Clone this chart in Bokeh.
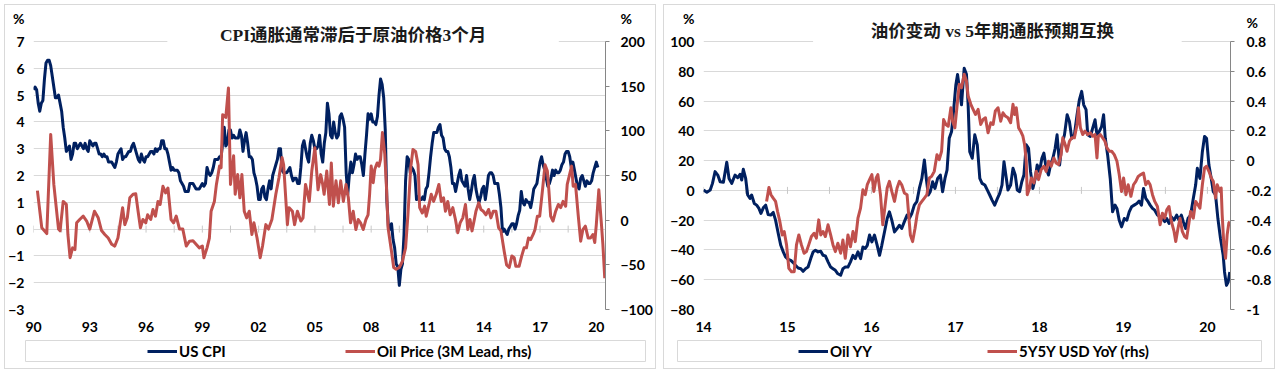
from bokeh.plotting import figure
from bokeh.models import (Range1d, LinearAxis, FixedTicker, NumeralTickFormatter,
                          Label, Legend, LegendItem, BoxAnnotation)
from bokeh.layouts import row, column
from bokeh.embed import file_html
from bokeh.resources import INLINE
from bokeh.core.properties import value
import math

# ---------------- data: left panel ----------------
cpi_start_year = 1990
us_cpi = [
    5.2, 5.3, 5.2, 4.7, 4.4, 4.7, 4.8, 5.6, 6.2, 6.3, 6.3, 6.1,
    5.7, 5.3, 4.9, 4.9, 5.0, 4.7, 4.4, 3.8, 3.4, 2.9, 3.0, 3.1,
    2.6, 2.8, 3.2, 3.2, 3.0, 3.1, 3.2, 3.1, 3.0, 3.2, 3.0, 2.9,
    3.3, 3.2, 3.1, 3.2, 3.2, 3.0, 2.8, 2.8, 2.7, 2.8, 2.7, 2.7,
    2.5, 2.5, 2.5, 2.4, 2.3, 2.5, 2.8, 2.9, 3.0, 2.6, 2.7, 2.7,
    2.8, 2.9, 2.9, 3.1, 3.2, 3.0, 2.8, 2.6, 2.5, 2.8, 2.6, 2.5,
    2.7, 2.7, 2.8, 2.9, 2.9, 2.8, 3.0, 2.9, 3.0, 3.0, 3.3, 3.3,
    3.0, 3.0, 2.8, 2.5, 2.2, 2.3, 2.2, 2.2, 2.2, 2.1, 1.8, 1.7,
    1.6, 1.4, 1.4, 1.4, 1.7, 1.7, 1.7, 1.6, 1.5, 1.5, 1.5, 1.6,
    1.7, 1.6, 1.7, 2.3, 2.1, 2.0, 2.1, 2.3, 2.6, 2.6, 2.6, 2.7,
    2.7, 3.2, 3.8, 3.1, 3.2, 3.7, 3.7, 3.4, 3.5, 3.4, 3.4, 3.4,
    3.7, 3.5, 2.9, 3.3, 3.6, 3.2, 2.7, 2.7, 2.6, 2.1, 1.9, 1.6,
    1.1, 1.1, 1.5, 1.6, 1.2, 1.1, 1.5, 1.8, 1.5, 2.0, 2.2, 2.4,
    2.6, 3.0, 3.0, 2.2, 2.1, 2.1, 2.1, 2.2, 2.3, 2.0, 1.8, 1.9,
    1.9, 1.7, 1.7, 2.3, 3.1, 3.3, 3.0, 2.7, 2.5, 3.2, 3.5, 3.3,
    3.0, 3.0, 3.1, 3.5, 2.8, 2.5, 3.2, 3.6, 4.7, 4.3, 3.5, 3.4,
    4.0, 3.6, 3.4, 3.5, 4.2, 4.3, 4.1, 3.8, 2.1, 1.3, 2.0, 2.5,
    2.1, 2.4, 2.8, 2.6, 2.7, 2.7, 2.4, 2.0, 2.8, 3.5, 4.3, 4.1,
    4.3, 4.0, 4.0, 3.9, 4.2, 5.0, 5.6, 5.4, 4.9, 3.7, 1.1, 0.1,
    0.0, 0.2, -0.4, -0.7, -1.3, -1.4, -2.1, -1.5, -1.3, -0.2, 1.8, 2.7,
    2.6, 2.1, 2.3, 2.2, 2.0, 1.1, 1.2, 1.1, 1.1, 1.2, 1.1, 1.5,
    1.6, 2.1, 2.7, 3.2, 3.6, 3.6, 3.6, 3.8, 3.9, 3.5, 3.4, 3.0,
    2.9, 2.9, 2.7, 2.3, 1.7, 1.7, 1.4, 1.7, 2.0, 2.2, 1.8, 1.7,
    1.6, 2.0, 1.5, 1.1, 1.4, 1.8, 2.0, 1.5, 1.2, 1.0, 1.2, 1.5,
    1.6, 1.1, 1.5, 2.0, 2.1, 2.1, 2.0, 1.7, 1.7, 1.7, 1.3, 0.8,
    -0.1, 0.0, -0.1, -0.2, 0.0, 0.1, 0.2, 0.2, 0.0, 0.2, 0.5, 0.7,
    1.4, 1.0, 0.9, 1.1, 1.0, 1.0, 0.8, 1.1, 1.5, 1.6, 1.7, 2.1,
    2.5, 2.7, 2.4, 2.2, 1.9, 1.6, 1.7, 1.9, 2.2, 2.0, 2.2, 2.1,
    2.1, 2.2, 2.4, 2.5, 2.8, 2.9, 2.9, 2.7, 2.3, 2.5, 2.2, 1.9,
    1.6, 1.5, 1.9, 2.0, 1.8, 1.6, 1.8, 1.7, 1.7, 1.8, 2.1, 2.3,
    2.5, 2.3,
]

# months since Jan 1990, oil price YoY % (3M lead, rhs)
oil_lead_month = [
    2.5, 5.3, 8.5, 11, 13, 16, 17, 19, 21, 22, 23.4, 25, 26.5, 27.6, 29.7, 31.8,
    34, 36, 39, 41.4, 43.5, 45.6, 47.8, 50, 52, 54, 57, 58.4, 60, 61.6, 63.7,
    65.4, 66.9, 68.4, 70, 71.8, 73, 75, 76.4, 78, 79.6, 81, 82.8, 84.5, 86, 88,
    89.6, 91.3, 93.4, 95.5, 97.7, 99.8, 102, 104, 106, 108, 109, 111, 112.5,
    113.6, 115.7, 117, 119, 120, 121, 123, 124.7, 126, 128, 129, 130.6, 132,
    133.3, 134.8, 136.3, 138, 139.7, 141, 143, 145, 146.5, 148.6, 150.3, 152.5,
    155, 157, 159, 160, 162.4, 163.4, 165.6, 167, 168.8, 171, 172.4, 174, 176.4,
    178, 180, 182, 183.7, 185, 185.9, 187.6, 189.3, 190.5, 191.8, 193.5, 195,
    196.5, 198.2, 199.9, 201.4, 202.8, 204.5, 206.2, 207.7, 209.2, 210.9, 212.6,
    214, 215, 216, 217.3, 218.3, 219.8, 221, 222, 223.2, 224.7, 225.8, 226.8,
    229, 230.4, 232, 234, 236, 238, 239.5, 241.3, 242.7, 244.4, 246, 247, 248.7,
    250.2, 251.2, 253, 254.4, 255.9, 257.6, 259.3, 260.8, 262.3, 263.5, 265,
    266.5, 268.2, 269.9, 271.4, 272.9, 274.6, 276.3, 277.8, 279.2, 280.5, 282,
    283, 284.8, 286.2, 287.7, 289.4, 291.1, 292.6, 294.1, 295.8, 297.5, 299,
    301.1, 302.6, 304.3, 306, 307.5, 308.5, 310.6, 312.3, 313.8, 315.3, 316.6,
    318, 319.6, 320.8, 322.3, 323.8, 325.5, 327.2, 328.7, 329.7, 330.8, 332.3,
    334, 335.7, 337.2, 338.7, 340.4, 341.4, 342.9, 344.2, 345.2, 346.7, 348.4,
    350, 351.4, 353, 354.8, 356.3, 357.8, 359, 360, 361.6, 363.3, 364.2, 365.4,
]
oil_lead_yoy = [
    33, -8.6, -15, 96, 40, -10, -12, 21, 17.6, -16, -42, -31, -33, -3, 1, 4.5,
    -1, -10, 10, 2.6, -11.6, -16, -20, -27, -29, -20, 14, -5, 2.6, 25, 29,
    29.5, 10, -8.6, 0.7, -3, 6, 0.7, 12, 4.5, 21, 17.5, 38, 30.6, 36, 0.7,
    -3, 4.5, -10, -10, -29, -23.5, -23, -27, -31, -29, -42, -31, -20,
    10, 21, 40, 60.5, 58.7, 118, 115, 148, 40, 72, 29, 51, 25,
    51, 10, 2.6, 10, -16, -3, -20, -42, -29, -5, -10, 0.7,
    29, 47.5, 70, 62, -5, 14, 10, -5, 10, -1, 2.6, 40, 21,
    55, 81, 34, 51, 40, 29, 55, 17.6, 64, 15.7, 44, 19.4,
    44, 21, 40, 25, -3, 10, -10.5, 0.7, -3, -10.5, 0.7,
    6, 29, 60.5, 42, 57, 64, 60.5, 68, 98, 73.6, 36, -8.6,
    -35, -53, -55, -53, -46, -31, 6, 59, 79, 77, 62, 14, 8,
    15.7, 4.5, 17.6, 29, 21, 29, 40, 21, 25, 10, 21,
    6, 14, 0.7, -14, -3, 2.6, 17.6, -10.5, 0.7, -12, 0.7,
    10, 19.4, 12, 10, 6, 12, 2.6, 10, 10, -8.6, -12,
    -35, -50, -53, -40, -42, -51.6, -51.6, -40, -31, -31, -20,
    -21.7, -16, -10.5, 4.5, 4.5, 32.5, 62, 55, 32.5, 4.5, -1,
    10, 17.6, 14, 21, 15.7, 40, 51, 60.5, 38, 40, 6,
    -23.5, -10.5, -6.7, -20, -20, -16, -25, -5, 34, -5, -27, -65,
]

left_tick_years = [1990, 1993, 1996, 1999, 2002, 2005, 2008, 2011, 2014, 2017, 2020]
left_tick_labels = ["90", "93", "96", "99", "02", "05", "08", "11", "14", "17", "20"]
left_minor_years = [1990, 1991.5, 1993, 1994.5, 1996, 1997.5, 1999, 2000.5, 2002, 2003.5,
                    2005, 2006.5, 2008, 2009.5, 2011, 2012.5, 2014, 2015.5, 2017, 2018.5, 2020]
left_lhs_ticks = [-3, -2, -1, 0, 1, 2, 3, 4, 5, 6, 7]
left_rhs_ticks = [-100, -50, 0, 50, 100, 150, 200]

# ---------------- data: right panel ----------------
oil_yy_date = [
    2014.000, 2014.040, 2014.080, 2014.107, 2014.138, 2014.170, 2014.198, 2014.237,
    2014.277, 2014.304, 2014.336, 2014.376, 2014.407, 2014.435, 2014.455, 2014.474,
    2014.502, 2014.526, 2014.554, 2014.573, 2014.605, 2014.633, 2014.660, 2014.684,
    2014.712, 2014.740, 2014.770, 2014.800, 2014.830, 2014.858, 2014.890, 2014.920,
    2014.950, 2014.977, 2015.008, 2015.040, 2015.068, 2015.095, 2015.127, 2015.159,
    2015.186, 2015.214, 2015.245, 2015.277, 2015.305, 2015.333, 2015.364, 2015.396,
    2015.423, 2015.451, 2015.483, 2015.514, 2015.542, 2015.570, 2015.600, 2015.633,
    2015.660, 2015.688, 2015.720, 2015.750, 2015.780, 2015.807, 2015.839, 2015.870,
    2015.898, 2015.926, 2015.950, 2015.977, 2016.005, 2016.036, 2016.068, 2016.096,
    2016.123, 2016.155, 2016.187, 2016.214, 2016.242, 2016.274, 2016.305, 2016.333,
    2016.360, 2016.392, 2016.424, 2016.450, 2016.480, 2016.510, 2016.540, 2016.570,
    2016.600, 2016.630, 2016.653, 2016.677, 2016.700, 2016.728, 2016.756, 2016.788,
    2016.820, 2016.847, 2016.875, 2016.900, 2016.926, 2016.954, 2016.977, 2017.005,
    2017.025, 2017.057, 2017.072, 2017.104, 2017.131, 2017.151, 2017.170, 2017.200,
    2017.230, 2017.260, 2017.290, 2017.317, 2017.350, 2017.380, 2017.408, 2017.436,
    2017.467, 2017.500, 2017.527, 2017.554, 2017.578, 2017.606, 2017.625, 2017.657,
    2017.685, 2017.712, 2017.736, 2017.764, 2017.790, 2017.815, 2017.843, 2017.870,
    2017.894, 2017.922, 2017.950, 2017.973, 2018.001, 2018.029, 2018.053, 2018.080,
    2018.108, 2018.132, 2018.160, 2018.187, 2018.210, 2018.240, 2018.266, 2018.298,
    2018.330, 2018.357, 2018.385, 2018.416, 2018.448, 2018.476, 2018.503, 2018.527,
    2018.555, 2018.575, 2018.606, 2018.634, 2018.662, 2018.685, 2018.713, 2018.740,
    2018.764, 2018.784, 2018.812, 2018.843, 2018.871, 2018.900, 2018.923, 2018.950,
    2018.978, 2019.010, 2019.041, 2019.069, 2019.097, 2019.128, 2019.160, 2019.187,
    2019.215, 2019.239, 2019.266, 2019.294, 2019.318, 2019.346, 2019.373, 2019.405,
    2019.437, 2019.464, 2019.492, 2019.516, 2019.543, 2019.571, 2019.603, 2019.634,
    2019.662, 2019.690, 2019.713, 2019.741, 2019.769, 2019.800, 2019.832, 2019.860,
    2019.880, 2019.911, 2019.940, 2019.966, 2019.990, 2020.018, 2020.046, 2020.070,
    2020.097, 2020.125, 2020.156, 2020.188, 2020.204, 2020.227, 2020.247, 2020.267,
]
oil_yy = [
    0.2, -1.3, 0.2, 4.7, 12.6, 10.3, 5.8, 5.4,
    18.9, 8, 4.7, 10.3, 8.5, 10.8, 7, 14.2,
    8, -3.1, -5.4, -3.1, -8.8, -9.9, -12.1, -15.5,
    -11.7, -9.9, -16.2, -16.6, -14.8, -20, -29, -36.9,
    -41.3, -44.7, -46.3, -47, -48.5, -50.3, -52.1, -52.6,
    -54.4, -52.6, -51.5, -45.8, -41.3, -40.2, -41.3, -40.9,
    -43.6, -44, -48, -51.5, -52.6, -53.7, -56, -57,
    -52.6, -51.5, -51.5, -48, -43.6, -45.8, -41.3, -45.8,
    -38, -39, -36.9, -30, -34.6, -30, -36.9, -43.6,
    -36.9, -27.9, -18.9, -14.4, -20, -27.9, -25.6, -23.4,
    -25.6, -21, -16.6, -18.9, -15.5, -9.9, -7.6, 1.3,
    8, 20.4, 8, -3.1, -0.9, 5.8, 1.3, 8,
    10.3, -0.9, 8, 13.7, 35, 39.6, 53, 71,
    77.8, 64.3, 57.5, 82, 78, 57.5, 26, 21.6,
    37.3, 30.6, 8, 4.7, 3.6, 0.2, -3.1, -6.5,
    -9.9, -5.4, -2, 3.6, 19.3, 8, 0.2, 3.6,
    14.8, 10.3, 0.2, -0.9, 5.8, 10.3, 30.6, 28.3,
    12.6, 1.3, 8, 17, 12.6, 21.6, 25, 14.8,
    10.3, 17, 21.6, 28.3, 37.3, 17, 30.6, 37.3,
    50.8, 46.3, 35, 37.3, 50.8, 61, 66.5, 57.5,
    54.2, 37.3, 36.2, 41.8, 47.4, 37.3, 39.6, 42.9,
    50.8, 35, 23.8, 8, -14.4, -9.9, -12.1, -20,
    -24.5, -18.9, -20, -14.4, -11, -9.9, -8.8, -7.2,
    -9.9, 1.3, -5.4, -7.6, -9.9, -12.1, -13.3, -16.6,
    -17.8, -18.9, -21, -18.9, -22.2, -17.8, -20, -16.6,
    -20, -16.6, -21, -25.6, -18.9, -16.6, -5.4, 3.6,
    14.8, 8, 26, 36.2, 35, 17, 8, -0.9,
    -3.1, -18.9, -32.4, -43.6, -54.8, -63.8, -61.6, -54.8,
]

swap_date = [
    2014.751, 2014.779, 2014.803, 2014.830, 2014.858, 2014.882, 2014.909, 2014.937,
    2014.961, 2014.989, 2015.016, 2015.048, 2015.080, 2015.107, 2015.135, 2015.166,
    2015.198, 2015.226, 2015.253, 2015.285, 2015.317, 2015.344, 2015.372, 2015.396,
    2015.423, 2015.451, 2015.483, 2015.514, 2015.542, 2015.570, 2015.600, 2015.633,
    2015.660, 2015.688, 2015.720, 2015.750, 2015.780, 2015.807, 2015.839, 2015.870,
    2015.898, 2015.926, 2015.950, 2015.977, 2016.005, 2016.028, 2016.056, 2016.076,
    2016.107, 2016.135, 2016.163, 2016.187, 2016.214, 2016.242, 2016.274, 2016.305,
    2016.333, 2016.360, 2016.392, 2016.424, 2016.440, 2016.463, 2016.490, 2016.519,
    2016.543, 2016.570, 2016.600, 2016.630, 2016.660, 2016.689, 2016.716, 2016.748,
    2016.780, 2016.807, 2016.835, 2016.859, 2016.886, 2016.914, 2016.946, 2016.966,
    2016.993, 2017.017, 2017.045, 2017.072, 2017.104, 2017.131, 2017.151, 2017.183,
    2017.210, 2017.238, 2017.270, 2017.301, 2017.329, 2017.357, 2017.388, 2017.420,
    2017.448, 2017.475, 2017.507, 2017.539, 2017.566, 2017.594, 2017.625, 2017.657,
    2017.685, 2017.705, 2017.724, 2017.752, 2017.776, 2017.803, 2017.823, 2017.843,
    2017.855, 2017.883, 2017.902, 2017.934, 2017.962, 2017.989, 2018.021, 2018.053,
    2018.080, 2018.108, 2018.140, 2018.171, 2018.199, 2018.227, 2018.258, 2018.278,
    2018.306, 2018.329, 2018.357, 2018.385, 2018.416, 2018.448, 2018.464, 2018.488,
    2018.515, 2018.543, 2018.575, 2018.606, 2018.634, 2018.662, 2018.685, 2018.701,
    2018.725, 2018.753, 2018.780, 2018.804, 2018.832, 2018.860, 2018.891, 2018.923,
    2018.950, 2018.978, 2019.002, 2019.030, 2019.057, 2019.089, 2019.120, 2019.148,
    2019.176, 2019.207, 2019.239, 2019.266, 2019.294, 2019.318, 2019.346, 2019.373,
    2019.405, 2019.437, 2019.464, 2019.492, 2019.516, 2019.543, 2019.571, 2019.603,
    2019.623, 2019.650, 2019.674, 2019.701, 2019.729, 2019.753, 2019.780, 2019.800,
    2019.832, 2019.860, 2019.887, 2019.911, 2019.940, 2019.966, 2019.990, 2020.018,
    2020.046, 2020.070, 2020.097, 2020.117, 2020.148, 2020.164, 2020.176, 2020.196,
    2020.216, 2020.235, 2020.255, 2020.267,
]
swap_5y5y_yoy = [
    -0.274, -0.18, -0.229, -0.252, -0.274, -0.342, -0.409, -0.499,
    -0.476, -0.566, -0.724, -0.746, -0.746, -0.566, -0.499, -0.566,
    -0.622, -0.611, -0.566, -0.51, -0.488, -0.521, -0.398, -0.499,
    -0.476, -0.51, -0.431, -0.499, -0.566, -0.611, -0.555, -0.622,
    -0.533, -0.656, -0.499, -0.578, -0.476, -0.544, -0.387, -0.319,
    -0.196, -0.229, -0.162, -0.128, -0.094, -0.207, -0.117, -0.094,
    -0.229, -0.431, -0.297, -0.184, -0.139, -0.207, -0.274, -0.184,
    -0.139, -0.162, -0.218, -0.229, -0.342, -0.499, -0.544, -0.454,
    -0.364, -0.297, -0.274, -0.252, -0.229, -0.117, -0.106, -0.072,
    0.04, 0.007, 0.063, 0.276, 0.243, 0.231, 0.355, 0.265,
    0.22, 0.355, 0.512, 0.49, 0.58, 0.535, 0.434, 0.378,
    0.344, 0.31, 0.344, 0.243, 0.276, 0.288, 0.187, 0.254,
    0.243, 0.333, 0.355, 0.265, 0.321, 0.299, 0.288, 0.254,
    0.378, 0.31, 0.355, 0.22, 0.198, 0.164, 0.108, -0.004,
    -0.229, -0.184, -0.117, -0.15, -0.072, -0.128, -0.061, -0.038,
    -0.072, -0.004, -0.038, 0.018, -0.016, -0.027, 0.04, 0.153,
    0.108, 0.063, 0.13, 0.153, 0.153, 0.243, 0.355, 0.22,
    0.175, 0.198, 0.175, 0.187, 0.164, 0.175, 0.018, 0.164,
    0.175, 0.153, 0.13, 0.085, 0.063, 0.063, 0.04, -0.004,
    -0.094, -0.207, -0.117, -0.229, -0.162, -0.24, -0.162, -0.139,
    -0.106, -0.094, -0.083, -0.162, -0.139, -0.162, -0.229, -0.274,
    -0.308, -0.431, -0.353, -0.387, -0.33, -0.308, -0.409, -0.476,
    -0.544, -0.454, -0.387, -0.476, -0.51, -0.521, -0.42, -0.342,
    -0.387, -0.274, -0.297, -0.319, -0.162, -0.049, -0.038, -0.072,
    -0.117, -0.139, -0.252, -0.162, -0.207, -0.184, -0.364, -0.566,
    -0.656, -0.499, -0.42, -0.409,
]

right_tick_years = [2014, 2015, 2016, 2017, 2018, 2019, 2020]
right_tick_labels = ["14", "15", "16", "17", "18", "19", "20"]
right_minor_years = [2014, 2014.5, 2015, 2015.5, 2016, 2016.5, 2017, 2017.5,
                     2018, 2018.5, 2019, 2019.5, 2020]
right_lhs_ticks = [-80, -60, -40, -20, 0, 20, 40, 60, 80, 100]
right_rhs_ticks = [-1.0, -0.8, -0.6, -0.4, -0.2, 0.0, 0.2, 0.4, 0.6, 0.8]

left_title = "CPI通胀通常滞后于原油价格3个月"
right_title = "油价变动 vs 5年期通胀预期互换"
unit_label = "%"

# ---------------- styling / layout ----------------
NAVY = "#002060"
RED = "#c0504d"
GRID = "#d9d9d9"
AXIS = "#868686"
ZERO_TICK = "#c8c8c8"
TXT = "#000000"
NUM_FONT = "Lato"
TITLE_FONT = "Liberation Serif, Noto Sans CJK SC"

FRAME_TOP_PX = 6       # frame reaches the top of the canvas (page px)
GRID_TOP_PX = 42       # page y of the top gridline
FRAME_BOTTOM_PX = 310  # page y of the bottom gridline


def value_at(lo, hi, ypx):
    per = (hi - lo) / (FRAME_BOTTOM_PX - GRID_TOP_PX)
    return hi + (GRID_TOP_PX - ypx) * per


def year_at(x0, x1, left_px, right_px, xpx):
    return x0 + (xpx - left_px) / (right_px - left_px) * (x1 - x0)


def num_style(ax):
    ax.major_label_text_font = NUM_FONT
    ax.major_label_text_font_style = "bold"
    ax.major_label_text_font_size = "14px"
    ax.major_label_text_color = TXT
    ax.minor_tick_line_color = None


def make_panel(cfg):
    lo, hi = cfg["lhs"]
    rlo, rhi = cfg["rhs"]
    x0, x1 = cfg["xr"]
    lpx, rpx = cfg["frame_px"]
    lpct = value_at(lo, hi, cfg["pct_y"][0])
    rpct = value_at(rlo, rhi, cfg["pct_y"][1])

    p = figure(width=cfg["width"], height=FRAME_BOTTOM_PX - FRAME_TOP_PX + 30,
               x_range=Range1d(x0, x1),
               y_range=Range1d(lo, value_at(lo, hi, FRAME_TOP_PX)),
               output_backend="svg", toolbar_location=None,
               min_border_left=cfg["mb_left"], min_border_right=cfg["mb_right"],
               min_border_top=0, min_border_bottom=30)
    p.title.visible = False
    p.extra_y_ranges = {"rhs": Range1d(rlo, value_at(rlo, rhi, FRAME_TOP_PX))}
    p.outline_line_color = None
    p.background_fill_color = "white"
    p.border_fill_color = "white"

    xa = p.below[0]
    xa.ticker = FixedTicker(ticks=cfg["xticks"])
    xa.major_label_overrides = dict(zip(cfg["xticks"], cfg["xlabels"]))
    num_style(xa)
    xa.axis_line_color = None
    xa.major_tick_line_color = None
    xa.major_tick_out = 0
    xa.major_label_standoff = 12

    ya = p.left[0]
    ya.ticker = FixedTicker(ticks=list(cfg["lticks"]) + [lpct])
    ya.major_label_overrides = {lpct: unit_label}
    num_style(ya)
    ya.axis_line_color = None
    ya.major_tick_line_color = None
    ya.major_tick_out = 0
    ya.major_label_standoff = cfg["left_standoff"]

    # right axis line with tick marks (bounded to the value range)
    ra1 = LinearAxis(y_range_name="rhs", bounds=(rlo, rhi))
    ra1.ticker = FixedTicker(ticks=cfg["rticks"])
    ra1.major_label_overrides = {t: "" for t in cfg["rticks"]}
    num_style(ra1)
    ra1.axis_line_color = AXIS
    ra1.major_tick_line_color = AXIS
    ra1.major_tick_out = 4
    ra1.major_tick_in = 0
    ra1.major_label_standoff = 0
    p.add_layout(ra1, "right")

    # right axis labels (plus unit)
    ra2 = LinearAxis(y_range_name="rhs")
    ra2.ticker = FixedTicker(ticks=list(cfg["rticks"]) + [rpct])
    if cfg["rformatter"] is not None:
        ra2.formatter = cfg["rformatter"]
    ra2.major_label_overrides = {rpct: unit_label}
    num_style(ra2)
    ra2.axis_line_color = None
    ra2.major_tick_line_color = None
    ra2.major_tick_out = 0
    ra2.major_tick_in = 0
    ra2.major_label_standoff = cfg["right_standoff"]
    p.add_layout(ra2, "right")

    p.xgrid.visible = False
    p.ygrid.ticker = FixedTicker(ticks=cfg["lticks"])
    p.ygrid.grid_line_color = GRID
    p.ygrid.grid_line_width = 1

    # small category-axis tick marks on the zero line
    minor = cfg["minor_years"]
    p.scatter(minor, [0] * len(minor), marker="dash", size=7, angle=math.pi / 2,
              line_color=ZERO_TICK, line_width=1)

    (sx1, sy1), (sx2, sy2) = cfg["series"]
    p.line(sx1, sy1, line_color=NAVY, line_width=3, line_join="round")
    p.line(sx2, sy2, line_color=RED, line_width=3, line_join="round", y_range_name="rhs")

    # white title box hiding the top gridline, as in the original
    bl, br = cfg["title_box_px"]
    p.add_layout(BoxAnnotation(left=year_at(x0, x1, lpx, rpx, bl),
                               right=year_at(x0, x1, lpx, rpx, br),
                               bottom=value_at(lo, hi, GRID_TOP_PX + 1.5),
                               fill_color="white", fill_alpha=1.0,
                               line_color=None))
    tx, ty = cfg["title_px"]
    p.add_layout(Label(x=year_at(x0, x1, lpx, rpx, tx), y=value_at(lo, hi, ty),
                       text=cfg["title"], text_align="center", text_baseline="middle",
                       text_font=TITLE_FONT, text_font_style="bold",
                       text_font_size="17.5px", text_color="#1a1a1a"))

    # legend box
    lf = figure(width=cfg["width"], height=29, x_range=Range1d(0, 1), y_range=Range1d(0, 1),
                x_axis_type=None, y_axis_type=None, output_backend="svg",
                toolbar_location=None, min_border_left=cfg["leg_mb"][0],
                min_border_right=cfg["leg_mb"][1], min_border_top=1, min_border_bottom=7)
    if "frame_align" in lf.properties():
        lf.frame_align = False
    lf.title.visible = False
    lf.outline_line_color = GRID
    lf.outline_line_width = 1
    lf.background_fill_color = "white"
    lf.border_fill_color = "white"
    # same series, outside this box's ranges: used only for the legend keys
    r1 = lf.line(sx1, sy1, line_color=NAVY, line_width=3)
    r2 = lf.line(sx2, sy2, line_color=RED, line_width=3)
    leg = Legend(items=[LegendItem(label=value(cfg["legend"][0]), renderers=[r1]),
                        LegendItem(label=value(cfg["legend"][1]), renderers=[r2])],
                 location=(cfg["leg_x"], 1), orientation="horizontal", padding=0, margin=0,
                 spacing=0, glyph_width=30, glyph_height=18, label_height=18,
                 label_width=cfg["label_w"], label_standoff=2, border_line_alpha=0,
                 background_fill_alpha=0, label_text_font=NUM_FONT,
                 label_text_font_style="bold", label_text_font_size="15px",
                 label_text_color=TXT)
    lf.add_layout(leg)

    return column(p, lf, spacing=0, styles={"border": "1px solid #d9d9d9"})


cpi_x = [cpi_start_year + i / 12 for i in range(len(us_cpi))]
oil_x = [cpi_start_year + m / 12 for m in oil_lead_month]

left = make_panel(dict(
    width=650, mb_left=28, mb_right=46, left_standoff=9, right_standoff=11,
    xr=(1990, 2020.49), frame_px=(33.3, 609), lhs=(-3, 7), rhs=(-100, 200),
    xticks=left_tick_years, xlabels=left_tick_labels, minor_years=left_minor_years,
    lticks=left_lhs_ticks, rticks=left_rhs_ticks, rformatter=None,
    series=((cpi_x, us_cpi), (oil_x, oil_lead_yoy)),
    pct_y=(19, 19), title=left_title, title_px=(355, 35), title_box_px=(168, 562),
    leg_mb=(20, 10), leg_x=122, label_w=166, legend=("US CPI", "Oil Price (3M Lead, rhs)"),
))

right = make_panel(dict(
    width=610, mb_left=39, mb_right=42, left_standoff=9, right_standoff=12,
    xr=(2014, 2020.275), frame_px=(703, 1232), lhs=(-80, 100), rhs=(-1, 0.8),
    xticks=right_tick_years, xlabels=right_tick_labels, minor_years=right_minor_years,
    lticks=right_lhs_ticks, rticks=right_rhs_ticks,
    rformatter=NumeralTickFormatter(format="0.[0]"),
    series=((oil_yy_date, oil_yy), (swap_date, swap_5y5y_yoy)),
    pct_y=(19, 23), title=right_title, title_px=(993, 31), title_box_px=(813, 1183),
    leg_mb=(13, 13), leg_x=121, label_w=157, legend=("Oil YY", "5Y5Y USD YoY (rhs)"),
))

layout = row(left, right, spacing=7, margin=(4, 0, 0, 4))

open("out.html", "w").write(file_html(layout, INLINE))
